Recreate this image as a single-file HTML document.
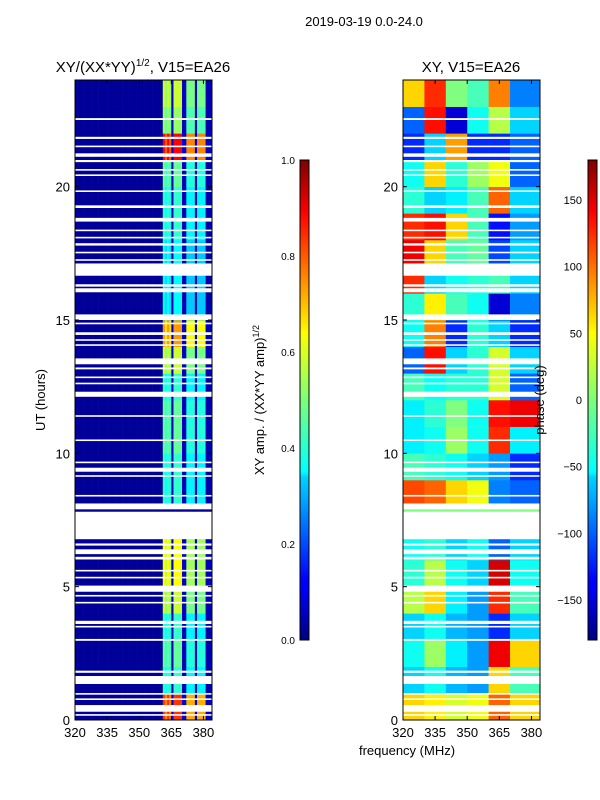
<!DOCTYPE html>
<html><head><meta charset="utf-8">
<style>
body{margin:0;background:#fff;}
svg{display:block;font-family:"Liberation Sans","DejaVu Sans",sans-serif;}
</style></head>
<body>
<svg id="fig" width="600" height="800" viewBox="0 0 600 800" xmlns="http://www.w3.org/2000/svg">
<defs>
<linearGradient id="jet" x1="0" y1="1" x2="0" y2="0">
<stop offset="0" stop-color="#00007f"/><stop offset="0.11" stop-color="#0000ff"/><stop offset="0.125" stop-color="#0000ff"/>
<stop offset="0.34" stop-color="#00d4ff"/><stop offset="0.35" stop-color="#0ff"/><stop offset="0.5" stop-color="#7cff79"/>
<stop offset="0.64" stop-color="#ff0"/><stop offset="0.66" stop-color="#ffe600"/><stop offset="0.89" stop-color="#ff0000"/><stop offset="1" stop-color="#7f0000"/>
</linearGradient>
</defs>
<text x="364" y="26" font-size="13" text-anchor="middle">2019-03-19 0.0-24.0</text>
<text x="143" y="72" font-size="15" text-anchor="middle">XY/(XX*YY)<tspan font-size="10" dy="-6">1/2</tspan><tspan dy="6">, V15=EA26</tspan></text>
<text x="471" y="72" font-size="15" text-anchor="middle">XY, V15=EA26</text>
<g id="leftmap"></g>
<g id="rightmap"></g>
<g id="axes"></g>
<text transform="translate(45,400) rotate(-90)" font-size="13" text-anchor="middle">UT (hours)</text>
<text x="407" y="755" font-size="13" text-anchor="middle">frequency (MHz)</text>
<rect x="300" y="160" width="9" height="480" fill="url(#jet)" stroke="#000" stroke-width="1"/>
<rect x="588" y="160" width="9" height="480" fill="url(#jet)" stroke="#000" stroke-width="1"/>
<text transform="translate(264,400) rotate(-90)" font-size="13" text-anchor="middle">XY amp. / (XX*YY amp)<tspan font-size="9" dy="-5">1/2</tspan></text>
<text transform="translate(544,400) rotate(-90)" font-size="13" text-anchor="middle">phase (deg)</text>
</svg>
<script>
// ---- data ----
const hours = [0,1,2,3,4,5,6,7,8,9,10,11,12,13,14,15,16,17,18,19,20,21,22,23];
const bandAmp = [0.8,0.4,0.45,0.4,0.55,0.6,0.6,0,0.4,0.4,0.45,0.45,0.4,0.55,0.7,0.35,0.35,0.35,0.4,0.4,0.45,0.85,0.5,0.55];
const chanProfile = [0,0,0,0,0,0,0,0,0,0,0,0,0,0,0,0,0,0,0,0,0,0,0,0,0,0,0,0,0,0,0,0,0,0,0,0,0,0,0,0,0,
  1,0.9,1,0.9,0.08,1,1,1,1,0.08,0.08,0.85,0.85,0.85,0.85,0.08,0.85,0.85,0.85,0.85,0.05,0.05,0.05];
const ampBackground = 0.025;
const phaseFreqEdges = [320,330,340,350,360,370,384];
const phase = [
 [60,50,30,40,100,60],[-60,-40,-70,-80,60,-20],[-40,10,-50,-80,140,60],[-60,-40,-70,-80,-120,-60],
 [20,60,-50,-80,120,-20],[-30,20,-40,-60,150,-40],[-40,-30,-60,-40,-100,-60],[0,0,0,0,0,0],
 [110,100,60,40,-90,-100],[-20,-30,-40,-60,-80,-120],[-50,-40,10,-40,120,-50],[-50,-30,0,-40,130,140],
 [-20,-40,-30,-30,30,-100],[-100,130,-60,-30,30,-60],[-40,90,-120,-30,-60,-120],[-30,50,-20,-40,-150,-90],
 [120,-60,-40,-30,-20,-60],[140,60,-20,-10,-110,-60],[120,130,60,-20,-130,-80],[-30,-60,-50,-20,100,-60],
 [-40,60,-30,10,40,-100],[-120,-60,80,-120,-120,-100],[-100,130,-150,-40,20,-60],[60,120,0,-20,90,-90]];
const flags = [[22.5,22.57],[21.79,21.87],[21.48,21.54],[21.12,21.25],[20.92,21.0],[20.6,20.66],[20.4,20.46],
 [19.8,19.86],[19.2,19.3],[18.69,18.83],[18.33,18.39],[18.06,18.12],[17.79,17.88],[17.5,17.56],[17.22,17.28],
 [16.66,17.12],[16.25,16.34],[16.04,16.19],[15.0,15.21],[14.84,14.9],[14.44,14.54],[14.22,14.28],[14.03,14.09],
 [13.34,13.56],[13.15,13.22],[12.82,12.88],[12.59,12.65],[12.12,12.31],[11.37,11.43],[10.46,10.52],[9.63,9.69],
 [9.31,9.46],[9.12,9.18],[8.38,8.44],[7.9,8.12],[6.78,7.81],[6.54,6.62],[6.22,6.4],[6.02,6.12],[5.57,5.63],
 [5.31,5.37],[4.81,5.04],[4.63,4.69],[4.37,4.43],[3.6,3.72],[3.47,3.53],[2.97,3.04],[1.77,1.85],[1.35,1.65],
 [0.95,1.01],[0.75,0.81],[0.31,0.56],[0.16,0.22]];
const yTicks = [0,5,10,15,20];
const xTicks = [320,335,350,365,380];
const ampTicks = [0.0,0.2,0.4,0.6,0.8,1.0];
const phaseTicks = [-150,-100,-50,0,50,100,150];
// ---- scales ----
const NS="http://www.w3.org/2000/svg";
const yS = h => 720 - h*(640/24);
const xL = f => 75 + (f-320)*(137/64);
const xR = f => 403 + (f-320)*(137/64);
function jet(v){v=Math.max(0,Math.min(1,v));
 const r=Math.max(0,Math.min(1,Math.min(4*v-1.5,-4*v+4.5)));
 const g=Math.max(0,Math.min(1,Math.min(4*v-0.5,-4*v+3.5)));
 const b=Math.max(0,Math.min(1,Math.min(4*v+0.5,-4*v+2.5)));
 return `rgb(${Math.round(r*255)},${Math.round(g*255)},${Math.round(b*255)})`;}
function mk(tag,attrs,parent){const e=document.createElementNS(NS,tag);for(const k in attrs)e.setAttribute(k,attrs[k]);parent.appendChild(e);return e;}
const L=document.getElementById('leftmap'), R=document.getElementById('rightmap'), A=document.getElementById('axes');
hours.forEach((h,i)=>{
 chanProfile.forEach((p,c)=>{
  const v=ampBackground+p*bandAmp[i];
  const r=mk('rect',{x:xL(320+c),y:yS(h+1),width:xL(321+c)-xL(320+c)+0.3,height:yS(h)-yS(h+1)+0.3,fill:jet(v)},L);
  
  
 });
 phase[i].forEach((ph,c)=>{
  const r=mk('rect',{x:xR(phaseFreqEdges[c]),y:yS(h+1),width:xR(phaseFreqEdges[c+1])-xR(phaseFreqEdges[c])+0.3,height:yS(h)-yS(h+1)+0.3,fill:jet((ph+180)/360)},R);
  
  
 });
});
flags.forEach(f=>{
 [[75,L],[403,R]].forEach(([x0,g])=>{
  const r=mk('rect',{x:x0,y:yS(f[1]),width:137,height:Math.max(1.5,yS(f[0])-yS(f[1])),fill:'#fff'},g);
  
  
 });
});
[75,403].forEach((x0,pi)=>{
 const fr=mk('rect',{x:x0,y:80,width:137,height:640,fill:'none',stroke:'#000','stroke-width':1},A);
 
 
 const xs = pi?xR:xL;
 yTicks.forEach(t=>{
  mk('line',{x1:x0,x2:x0+4,y1:yS(t),y2:yS(t),stroke:'#000'},A);
  mk('line',{x1:x0+133,x2:x0+137,y1:yS(t),y2:yS(t),stroke:'#000'},A);
  const tx=mk('text',{x:x0-5,y:yS(t)+5,'font-size':13,'text-anchor':'end'},A);tx.textContent=t;
  
  
 });
 xTicks.forEach(t=>{
  mk('line',{x1:xs(t),x2:xs(t),y1:720,y2:716,stroke:'#000'},A);
  mk('line',{x1:xs(t),x2:xs(t),y1:80,y2:84,stroke:'#000'},A);
  const tx=mk('text',{x:xs(t),y:737,'font-size':13,'text-anchor':'middle'},A);tx.textContent=t;
  
  
 });
});
ampTicks.forEach(t=>{
 const y=640-t*480;
 mk('line',{x1:300,x2:303,y1:y,y2:y,stroke:'#000'},A);
 mk('line',{x1:306,x2:309,y1:y,y2:y,stroke:'#000'},A);
 const tx=mk('text',{x:295,y:y+4,'font-size':10,'text-anchor':'end'},A);tx.textContent=t.toFixed(1);
 
 
});
phaseTicks.forEach(t=>{
 const y=640-(t+180)/360*480;
 mk('line',{x1:588,x2:591,y1:y,y2:y,stroke:'#000'},A);
 mk('line',{x1:594,x2:597,y1:y,y2:y,stroke:'#000'},A);
 const tx=mk('text',{x:582,y:y+4,'font-size':11,'text-anchor':'end'},A);tx.textContent=t<0?'\u2212'+(-t):t;
 
 
});
</script>
</body></html>
